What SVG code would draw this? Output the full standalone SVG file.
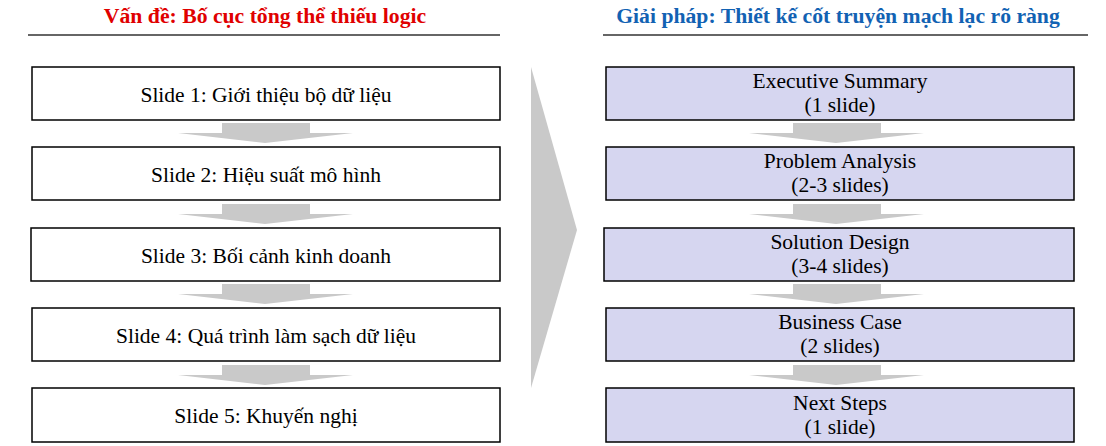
<svg xmlns="http://www.w3.org/2000/svg" width="1106" height="446" viewBox="0 0 1106 446">
<defs>
<style>
.title{font-family:"Liberation Serif","Times New Roman",serif;font-weight:bold;font-size:21.7px;text-anchor:middle}
.t{font-family:"Liberation Serif","Times New Roman",serif;font-size:21.5px;fill:#000;text-anchor:middle}
.box{fill:#fff;stroke:#000;stroke-width:1.5}
.pbox{fill:#d6d6f0;stroke:#000;stroke-width:1.5}
.rule{stroke:#333;stroke-width:1.5}
.arr{fill:#c9c9c9}
</style>
<g id="down">
<rect x="-43" y="0" width="88" height="11"/>
<polygon points="-87,10 88,10 0,20"/>
</g>
</defs>
<rect width="1106" height="446" fill="#fff"/>
<g id="title-left">
<text class="title" x="265" y="23" fill="#e00000">Vấn đề: Bố cục tổng thể thiếu logic</text>
<line class="rule" x1="28" y1="35" x2="500" y2="35"/>
</g>
<g id="title-right">
<text class="title" x="838" y="23" fill="#1262b3">Giải pháp: Thiết kế cốt truyện mạch lạc rõ ràng</text>
<line class="rule" x1="603" y1="35" x2="1088" y2="35"/>
</g>
<g id="connectors" class="arr">
<use href="#down" x="265" y="123"/>
<use href="#down" x="265" y="204"/>
<use href="#down" x="265" y="284"/>
<use href="#down" x="265" y="365"/>
<use href="#down" x="836" y="123"/>
<use href="#down" x="836" y="204"/>
<use href="#down" x="836" y="284"/>
<use href="#down" x="836" y="365"/>
<polygon points="531,67 577,230 531,388"/>
</g>
<g id="slide1"><rect class="box" x="32" y="67" width="468" height="53"/><text class="t" x="266" y="102">Slide 1: Giới thiệu bộ dữ liệu</text></g>
<g id="slide2"><rect class="box" x="32" y="147" width="468" height="53"/><text class="t" x="266" y="182">Slide 2: Hiệu suất mô hình</text></g>
<g id="slide3"><rect class="box" x="31" y="228" width="469" height="53"/><text class="t" x="266" y="263">Slide 3: Bối cảnh kinh doanh</text></g>
<g id="slide4"><rect class="box" x="32" y="308" width="468" height="53"/><text class="t" x="266" y="343">Slide 4: Quá trình làm sạch dữ liệu</text></g>
<g id="slide5"><rect class="box" x="32" y="388" width="468" height="54"/><text class="t" x="266" y="423">Slide 5: Khuyến nghị</text></g>
<g id="exec"><rect class="pbox" x="606" y="67" width="468" height="53"/><text class="t" x="840" y="88">Executive Summary</text><text class="t" x="840" y="112">(1 slide)</text></g>
<g id="problem"><rect class="pbox" x="606" y="147" width="468" height="53"/><text class="t" x="840" y="168">Problem Analysis</text><text class="t" x="840" y="192">(2-3 slides)</text></g>
<g id="solution"><rect class="pbox" x="604" y="228" width="470" height="53"/><text class="t" x="840" y="249">Solution Design</text><text class="t" x="840" y="273">(3-4 slides)</text></g>
<g id="business"><rect class="pbox" x="606" y="308" width="468" height="53"/><text class="t" x="840" y="329">Business Case</text><text class="t" x="840" y="353">(2 slides)</text></g>
<g id="next"><rect class="pbox" x="606" y="388" width="468" height="54"/><text class="t" x="840" y="410">Next Steps</text><text class="t" x="840" y="434">(1 slide)</text></g>
</svg>
